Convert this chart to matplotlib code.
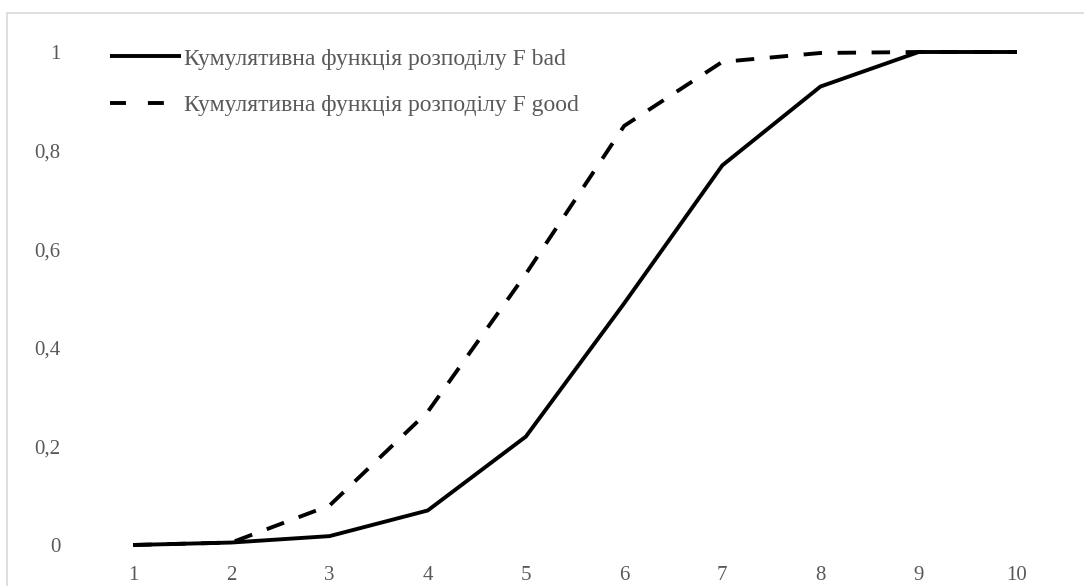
import matplotlib
matplotlib.use("Agg")
import matplotlib.pyplot as plt
from matplotlib.patches import Rectangle

x_values = [1, 2, 3, 4, 5, 6, 7, 8, 9, 10]
f_bad = [0.0, 0.005, 0.018, 0.07, 0.22, 0.49, 0.77, 0.93, 1.0, 1.0]
f_good = [0.0, 0.005, 0.08, 0.27, 0.55, 0.85, 0.98, 0.998, 1.0, 1.0]
y_ticks = [0, 0.2, 0.4, 0.6, 0.8, 1.0]
y_tick_labels = ["0", "0,2", "0,4", "0,6", "0,8", "1"]
label_bad = "Кумулятивна функція розподілу F bad"
label_good = "Кумулятивна функція розподілу F good"

plt.rcParams['font.family'] = ['Liberation Serif', 'DejaVu Serif']

W, H = 1084, 586
fig = plt.figure(figsize=(W / 100, H / 100), dpi=100)
fig.patch.set_facecolor("white")

# outer chart border (cropped at right/bottom)
fig.patches.append(Rectangle((7 / W, -0.05), 1.2, 1 - 13 / H + 0.05,
                             transform=fig.transFigure, fill=False,
                             edgecolor="#d9d9d9", linewidth=1.2))

LW = 2.8
ax = fig.add_axes([84 / W, 41 / H, (1066 - 84) / W, 493 / H])
ax.set_facecolor("none")
ax.plot(x_values, f_bad, color="black", linewidth=LW, label=label_bad,
        clip_on=False, solid_capstyle="butt")
ax.plot(x_values, f_good, color="black", linewidth=LW, linestyle=(0, (4.75, 4.0)),
        label=label_good, clip_on=False)

ax.set_xlim(0.5, 10.5)
ax.set_ylim(0, 1)
ax.set_xticks(x_values)
ax.set_xticklabels([str(v) for v in x_values])
ax.set_yticks(y_ticks)
ax.set_yticklabels(y_tick_labels)
for s in ax.spines.values():
    s.set_visible(False)
ax.tick_params(axis="both", length=0, labelsize=15, colors="#595959")
ax.tick_params(axis="x", pad=15)
ax.tick_params(axis="y", pad=17)

leg = ax.legend(loc="upper left", bbox_to_anchor=(110 / W, 1 - 48 / H),
                bbox_transform=fig.transFigure, frameon=False,
                fontsize=17, handlelength=3.0, handletextpad=0.15,
                labelspacing=1.05, borderaxespad=0, borderpad=0)
for t in leg.get_texts():
    t.set_color("#595959")
leg.get_lines()[1].set_linestyle((0, (4.1, 5.65, 4.1, 30)))

fig.savefig("out.png", dpi=100)
